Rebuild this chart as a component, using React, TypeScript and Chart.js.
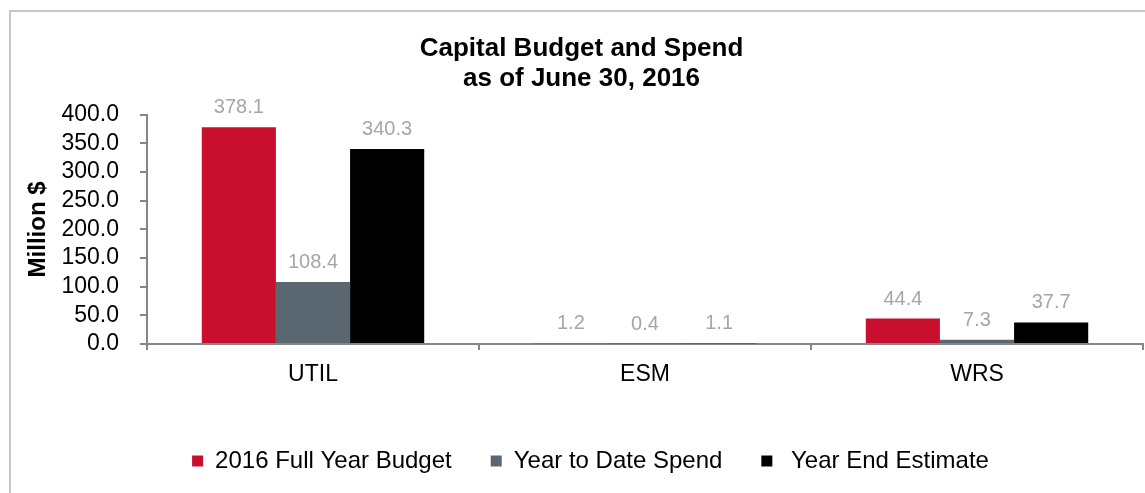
import React, { useEffect, useRef } from "react";
import { Chart, registerables } from "chart.js";

Chart.register(...registerables);

const categories = ["UTIL", "ESM", "WRS"];
const budget2016 = [378.1, 1.2, 44.4];
const ytdSpend = [108.4, 0.4, 7.3];
const yearEndEstimate = [340.3, 1.1, 37.7];
const seriesNames = ["2016 Full Year Budget", "Year to Date Spend", " Year End Estimate"];
const titleLines = ["Capital Budget and Spend", "as of June 30, 2016"];

const FONT = "'Liberation Sans', Arial, sans-serif";

const frameBorder = {
  id: "frameBorder",
  beforeDraw(chart: any) {
    const ctx = chart.ctx;
    ctx.save();
    ctx.strokeStyle = "#c8c8c8";
    ctx.lineWidth = 2;
    ctx.beginPath();
    ctx.moveTo(10, chart.height);
    ctx.lineTo(10, 11);
    ctx.lineTo(chart.width, 11);
    ctx.stroke();
    ctx.restore();
  },
};

const legendShift = {
  id: "legendShift",
  afterLayout(chart: any) {
    if (chart.legend) {
      chart.legend.left += 9;
      chart.legend.right += 9;
    }
  },
};

const valueLabels = {
  id: "valueLabels",
  afterDatasetsDraw(chart: any) {
    const ctx = chart.ctx;
    ctx.save();
    ctx.font = `20px ${FONT}`;
    ctx.fillStyle = "#a6a6a6";
    ctx.textAlign = "center";
    ctx.textBaseline = "alphabetic";
    chart.data.datasets.forEach((ds: any, i: number) => {
      const meta = chart.getDatasetMeta(i);
      meta.data.forEach((bar: any, j: number) => {
        const v = ds.data[j];
        ctx.fillText(Number(v).toFixed(1), bar.x, bar.y - 14);
      });
    });
    ctx.restore();
  },
};

export default function App() {
  const ref = useRef<HTMLCanvasElement>(null);

  useEffect(() => {
    if (!ref.current) return;
    const chart = new Chart(ref.current, {
      type: "bar",
      data: {
        labels: categories,
        datasets: [
          { label: seriesNames[0], data: budget2016, backgroundColor: "#c8102e" },
          { label: seriesNames[1], data: ytdSpend, backgroundColor: "#5b6770" },
          { label: seriesNames[2], data: yearEndEstimate, backgroundColor: "#000000" },
        ],
      },
      options: {
        animation: false,
        responsive: false,
        maintainAspectRatio: false,
        layout: { padding: { left: 20, right: 2, top: 0, bottom: 10 } },
        datasets: { bar: { categoryPercentage: 0.67, barPercentage: 1.0 } },
        plugins: {
          title: {
            display: true,
            text: titleLines,
            color: "#000000",
            font: { family: FONT, size: 26, weight: "bold", lineHeight: 1.15 },
            padding: { top: 34, bottom: 21 },
          },
          legend: {
            position: "bottom",
            labels: {
              boxWidth: 11,
              boxHeight: 11,
              padding: 39,
              color: "#000000",
              font: { family: FONT, size: 24 },
            },
          },
          tooltip: { enabled: false },
        },
        scales: {
          x: {
            grid: {
              display: true,
              drawOnChartArea: false,
              drawTicks: true,
              tickLength: 6,
              color: "#868686",
              lineWidth: 2,
              offset: true,
            },
            border: { display: true, color: "#868686", width: 2 },
            ticks: { color: "#000000", font: { family: FONT, size: 23 }, padding: 11 },
            afterFit: (scale: any) => {
              scale.height = 66;
            },
          },
          y: {
            min: 0,
            max: 400,
            ticks: {
              stepSize: 50,
              autoSkip: false,
              color: "#000000",
              font: { family: FONT, size: 23 },
              padding: 21,
              callback: (v: any) => Number(v).toFixed(1),
            },
            grid: {
              display: true,
              drawOnChartArea: false,
              drawTicks: true,
              tickLength: 7,
              color: "#868686",
              lineWidth: 2,
            },
            border: { display: true, color: "#868686", width: 2 },
            title: {
              display: true,
              text: "Million $",
              color: "#000000",
              font: { family: FONT, size: 24, weight: "bold" },
              padding: 4,
            },
            afterFit: (scale: any) => {
              scale.width = 127;
            },
          },
        },
      },
      plugins: [frameBorder, legendShift, valueLabels],
    });
    return () => chart.destroy();
  }, []);

  return (
    <div style={{ position: "absolute", left: 0, top: 0, width: 1145, height: 493, background: "#ffffff" }}>
      <canvas ref={ref} width={1145} height={493} style={{ width: 1145, height: 493, display: "block" }} />
    </div>
  );
}
